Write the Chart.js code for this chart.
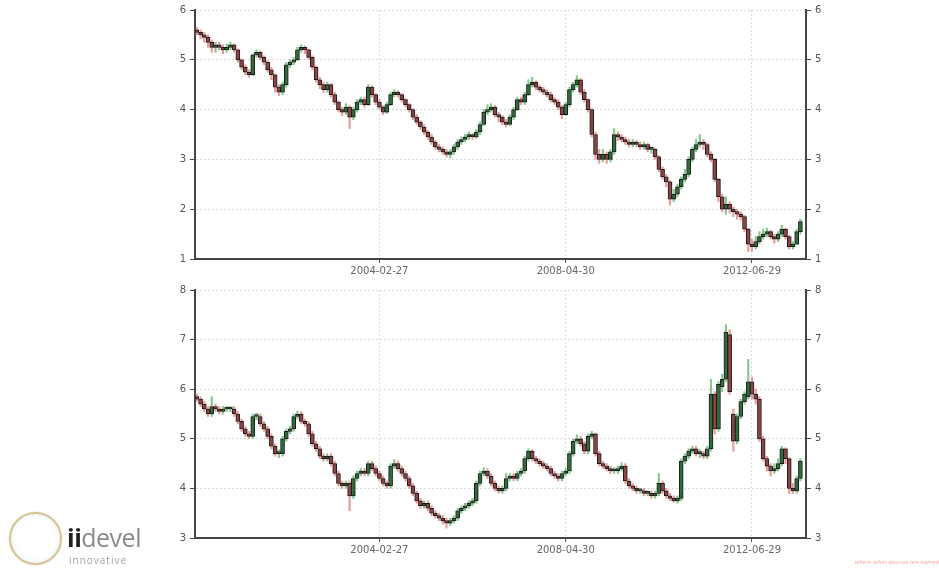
<!DOCTYPE html>
<html>
<head>
<meta charset="utf-8">
<script src="https://cdn.jsdelivr.net/npm/chart.js@4.4.0/dist/chart.umd.min.js"></script>
<style>
  body { margin: 0; background: #fff; width: 939px; height: 569px; overflow: hidden; position: relative; font-family: "DejaVu Sans", sans-serif; }
  canvas { position: absolute; left: 0; }
  #top { top: 0; }
  #bottom { top: 280px; }
  .ring { position: absolute; left: 9px; top: 512px; width: 49px; height: 49px; border-radius: 50%; border: 2px solid #d6c293; box-shadow: inset 0 0 6px #e2eef3, 0 0 2px #e8dcbc; }
  .brand { position: absolute; left: 67px; top: 523px; width: 77px; overflow: hidden; white-space: nowrap; font-family: "Open Sans", sans-serif; font-size: 25px; line-height: 28px; color: #8a8a8a; letter-spacing: -0.5px; }
  .brand b { color: #1f1f1f; font-weight: 700; }
  .tagline { position: absolute; left: 69px; top: 553px; width: 74px; overflow: hidden; white-space: nowrap; font-family: "Open Sans", sans-serif; font-size: 10px; color: #a0a0a0; letter-spacing: 1px; }
  .note { position: absolute; left: 855px; top: 558px; font-family: "Open Sans", sans-serif; font-style: italic; font-size: 6px; color: #f0a4a4; white-space: nowrap; }
</style>
</head>
<body>
<canvas id="top" width="939" height="280"></canvas>
<canvas id="bottom" width="939" height="280"></canvas>
<div class="ring"></div>
<div class="brand"><b>ii</b>devel</div>
<div class="tagline">innovative</div>
<div class="note">where other sources are named</div>
<script>
// monthly bars, 2000-01 .. 2013-08
const months = [];
for (let y = 2000; y <= 2013; y++) {
  for (let m = 1; m <= 12; m++) {
    if (y === 2013 && m > 8) break;
    months.push(y + "-" + String(m).padStart(2, "0"));
  }
}
const tickLabels = ["2004-02-27", "2008-04-30", "2012-06-29"];

// upper panel
const topOpen = [
  5.6,5.55,5.5,5.45,5.35,5.25,5.3,5.25,5.2,5.25,5.3,5.2,
  5.0,4.85,4.75,4.7,5.1,5.15,5.05,4.95,4.8,4.7,4.45,4.35,
  4.5,4.9,4.95,5.0,5.2,5.25,5.2,5.05,4.85,4.6,4.5,4.4,
  4.5,4.3,4.15,4.0,3.95,4.05,3.85,4.0,4.15,4.2,4.1,4.45,
  4.3,4.15,4.05,3.95,4.1,4.3,4.35,4.3,4.2,4.1,4.0,3.85,
  3.75,3.65,3.55,3.45,3.35,3.25,3.2,3.15,3.1,3.15,3.25,3.35,
  3.4,3.45,3.5,3.45,3.55,3.7,3.95,4.0,4.05,3.9,3.85,3.75,
  3.7,3.85,4.0,4.2,4.15,4.3,4.5,4.55,4.45,4.4,4.35,4.3,
  4.2,4.15,4.05,3.9,4.1,4.4,4.5,4.6,4.35,4.2,4.0,3.5,
  3.1,3.0,3.1,3.0,3.15,3.5,3.45,3.4,3.35,3.3,3.35,3.3,
  3.25,3.3,3.2,3.2,3.05,2.8,2.65,2.55,2.2,2.3,2.45,2.6,
  2.7,3.0,3.2,3.3,3.35,3.3,3.1,3.0,2.6,2.25,2.0,2.1,
  2.0,1.95,1.9,1.85,1.6,1.3,1.25,1.35,1.45,1.5,1.55,1.45,
  1.4,1.5,1.6,1.45,1.25,1.3,1.55,null
];
const topHigh = [
  5.65,5.6,5.55,5.5,5.4,5.35,5.35,5.3,5.32,5.35,5.32,5.22,
  5.02,4.9,4.8,5.12,5.2,5.18,5.08,4.98,4.85,4.72,4.5,4.55,
  4.95,5.0,5.05,5.25,5.3,5.28,5.22,5.08,4.88,4.65,4.55,4.55,
  4.52,4.35,4.18,4.05,4.12,4.08,4.05,4.2,4.25,4.25,4.5,4.48,
  4.32,4.2,4.08,4.15,4.35,4.4,4.38,4.32,4.22,4.12,4.02,3.9,
  3.78,3.7,3.58,3.5,3.38,3.3,3.25,3.2,3.2,3.3,3.4,3.45,
  3.5,3.55,3.52,3.6,3.75,4.0,4.1,4.12,4.08,3.95,3.88,3.8,
  3.9,4.05,4.25,4.25,4.35,4.6,4.65,4.58,4.5,4.45,4.4,4.35,
  4.25,4.2,4.08,4.15,4.45,4.55,4.68,4.62,4.4,4.22,4.02,3.55,
  3.2,3.2,3.15,3.2,3.62,3.55,3.5,3.45,3.4,3.4,3.38,3.35,
  3.35,3.32,3.25,3.22,3.08,2.85,2.7,2.58,2.4,2.5,2.65,2.8,
  3.05,3.25,3.4,3.5,3.4,3.32,3.15,3.02,2.62,2.3,2.25,2.15,
  2.05,2.0,1.95,1.88,1.62,1.4,1.45,1.55,1.6,1.62,1.58,1.5,
  1.55,1.68,1.62,1.48,1.35,1.6,1.8,null
];
const topLow = [
  5.5,5.42,5.35,5.25,5.15,5.15,5.2,5.12,5.15,5.2,5.15,4.95,
  4.8,4.7,4.65,4.68,5.05,5.0,4.9,4.75,4.6,4.35,4.28,4.3,
  4.45,4.85,4.9,4.98,5.15,5.12,5.0,4.8,4.55,4.42,4.35,4.35,
  4.25,4.1,3.95,3.88,3.9,3.62,3.8,3.95,4.1,4.05,4.08,4.25,
  4.1,4.0,3.9,3.92,4.08,4.25,4.25,4.15,4.05,3.95,3.8,3.7,
  3.6,3.5,3.4,3.3,3.2,3.15,3.1,3.05,3.03,3.1,3.2,3.3,
  3.35,3.4,3.4,3.42,3.5,3.68,3.9,3.95,3.85,3.75,3.7,3.65,
  3.68,3.8,3.98,4.1,4.1,4.28,4.45,4.4,4.35,4.3,4.25,4.15,
  4.1,4.0,3.82,3.88,4.05,4.35,4.45,4.3,4.15,3.95,3.45,3.0,
  2.92,2.95,2.92,2.95,3.1,3.38,3.35,3.3,3.25,3.25,3.25,3.2,
  3.2,3.15,3.12,3.0,2.75,2.6,2.45,2.08,2.15,2.25,2.4,2.55,
  2.65,2.95,3.15,3.25,3.2,3.05,2.95,2.55,2.15,1.95,1.9,1.92,
  1.85,1.8,1.78,1.55,1.15,1.15,1.2,1.3,1.4,1.45,1.4,1.32,
  1.35,1.45,1.4,1.2,1.2,1.28,1.5,null
];
const topClose = [
  5.55,5.5,5.45,5.35,5.25,5.3,5.25,5.2,5.25,5.3,5.2,5.0,
  4.85,4.75,4.7,5.1,5.15,5.05,4.95,4.8,4.7,4.45,4.35,4.5,
  4.9,4.95,5.0,5.2,5.25,5.2,5.05,4.85,4.6,4.5,4.4,4.5,
  4.3,4.15,4.0,3.95,4.05,3.85,4.0,4.15,4.2,4.1,4.45,4.3,
  4.15,4.05,3.95,4.1,4.3,4.35,4.3,4.2,4.1,4.0,3.85,3.75,
  3.65,3.55,3.45,3.35,3.25,3.2,3.15,3.1,3.15,3.25,3.35,3.4,
  3.45,3.5,3.45,3.55,3.7,3.95,4.0,4.05,3.9,3.85,3.75,3.7,
  3.85,4.0,4.2,4.15,4.3,4.5,4.55,4.45,4.4,4.35,4.3,4.2,
  4.15,4.05,3.9,4.1,4.4,4.5,4.6,4.35,4.2,4.0,3.5,3.1,
  3.0,3.1,3.0,3.15,3.5,3.45,3.4,3.35,3.3,3.35,3.3,3.25,
  3.3,3.2,3.2,3.05,2.8,2.65,2.55,2.2,2.3,2.45,2.6,2.7,
  3.0,3.2,3.3,3.35,3.3,3.1,3.0,2.6,2.25,2.0,2.1,2.0,
  1.95,1.9,1.85,1.6,1.3,1.25,1.35,1.45,1.5,1.55,1.45,1.4,
  1.5,1.6,1.45,1.25,1.3,1.55,1.75,null
];

// lower panel
const botOpen = [
  5.85,5.8,5.7,5.6,5.5,5.65,5.6,5.55,5.6,5.6,5.6,5.5,
  5.35,5.2,5.1,5.05,5.45,5.45,5.3,5.2,5.05,4.85,4.7,4.7,
  5.0,5.15,5.2,5.45,5.5,5.35,5.3,5.1,4.9,4.8,4.65,4.6,
  4.65,4.5,4.3,4.1,4.05,4.1,3.85,4.2,4.3,4.35,4.3,4.5,
  4.4,4.3,4.2,4.1,4.05,4.45,4.5,4.4,4.3,4.2,4.05,3.9,
  3.75,3.65,3.7,3.6,3.5,3.45,3.4,3.35,3.3,3.35,3.4,3.55,
  3.6,3.65,3.7,3.75,4.1,4.3,4.35,4.25,4.1,4.0,3.95,4.0,
  4.2,4.25,4.2,4.3,4.35,4.6,4.75,4.6,4.55,4.5,4.45,4.4,
  4.3,4.25,4.2,4.3,4.35,4.7,4.95,5.0,4.9,4.75,5.05,5.1,
  4.7,4.5,4.45,4.4,4.35,4.35,4.4,4.45,4.15,4.05,4.0,3.95,
  3.95,3.9,3.9,3.85,3.9,4.1,3.95,3.85,3.8,3.75,3.8,4.55,
  4.65,4.75,4.8,4.7,4.7,4.65,4.8,5.9,5.2,6.05,6.2,7.1,
  5.5,4.95,5.45,5.75,5.85,6.15,5.9,5.8,5.0,4.6,4.45,4.35,
  4.4,4.5,4.8,4.6,4.0,3.95,4.2,null
];
const botHigh = [
  5.9,5.85,5.75,5.65,5.85,5.7,5.65,5.65,5.65,5.65,5.65,5.55,
  5.4,5.25,5.15,5.5,5.52,5.5,5.35,5.25,5.1,4.9,4.78,5.05,
  5.2,5.25,5.5,5.56,5.55,5.4,5.35,5.15,4.95,4.85,4.7,4.7,
  4.7,4.55,4.35,4.15,4.15,4.15,4.25,4.35,4.4,4.4,4.55,4.55,
  4.45,4.35,4.25,4.15,4.5,4.58,4.55,4.45,4.35,4.25,4.1,3.95,
  3.8,3.75,3.75,3.65,3.55,3.5,3.45,3.4,3.4,3.45,3.6,3.65,
  3.7,3.75,3.8,4.15,4.35,4.42,4.4,4.3,4.15,4.05,4.05,4.3,
  4.3,4.3,4.35,4.4,4.65,4.8,4.78,4.65,4.6,4.55,4.5,4.45,
  4.35,4.3,4.35,4.4,4.75,5.0,5.08,5.05,4.95,5.1,5.15,5.12,
  4.75,4.55,4.5,4.45,4.42,4.45,4.52,4.5,4.2,4.1,4.05,4.0,
  4.0,3.95,3.95,3.95,4.3,4.15,4.0,3.9,3.85,3.85,4.6,4.7,
  4.8,4.85,4.85,4.78,4.75,4.85,6.2,5.95,6.15,6.3,7.3,7.2,
  5.6,5.5,5.8,5.95,6.6,6.25,6.0,5.85,5.05,4.65,4.5,4.5,
  4.6,4.85,4.82,4.62,4.1,4.25,4.6,null
];
const botLow = [
  5.75,5.65,5.55,5.45,5.45,5.55,5.5,5.5,5.55,5.55,5.45,5.3,
  5.15,5.05,5.0,5.0,5.38,5.25,5.15,5.0,4.8,4.65,4.62,4.65,
  4.95,5.1,5.15,5.4,5.3,5.25,5.05,4.85,4.75,4.6,4.55,4.55,
  4.45,4.25,4.05,4.0,4.0,3.55,3.8,4.15,4.25,4.25,4.25,4.35,
  4.25,4.15,4.05,4.0,4.0,4.4,4.35,4.25,4.15,4.0,3.85,3.7,
  3.6,3.6,3.55,3.45,3.4,3.35,3.28,3.2,3.25,3.3,3.35,3.5,
  3.55,3.6,3.65,3.7,4.05,4.25,4.2,4.05,3.95,3.9,3.9,3.95,
  4.15,4.15,4.15,4.25,4.3,4.55,4.55,4.5,4.45,4.4,4.35,4.25,
  4.2,4.15,4.15,4.25,4.3,4.65,4.9,4.85,4.7,4.7,5.0,4.65,
  4.45,4.4,4.35,4.3,4.3,4.3,4.35,4.1,4.0,3.95,3.9,3.9,
  3.85,3.85,3.8,3.8,3.85,3.9,3.8,3.75,3.72,3.7,3.75,4.5,
  4.6,4.7,4.65,4.62,4.6,4.6,4.75,5.1,5.15,5.95,6.15,5.9,
  4.75,4.9,5.4,5.7,5.8,5.8,5.7,4.95,4.55,4.35,4.25,4.3,
  4.35,4.45,4.5,3.9,3.9,3.9,4.15,null
];
const botClose = [
  5.8,5.7,5.6,5.5,5.65,5.6,5.55,5.6,5.6,5.6,5.5,5.35,
  5.2,5.1,5.05,5.45,5.45,5.3,5.2,5.05,4.85,4.7,4.7,5.0,
  5.15,5.2,5.45,5.5,5.35,5.3,5.1,4.9,4.8,4.65,4.6,4.65,
  4.5,4.3,4.1,4.05,4.1,3.85,4.2,4.3,4.35,4.3,4.5,4.4,
  4.3,4.2,4.1,4.05,4.45,4.5,4.4,4.3,4.2,4.05,3.9,3.75,
  3.65,3.7,3.6,3.5,3.45,3.4,3.35,3.3,3.35,3.4,3.55,3.6,
  3.65,3.7,3.75,4.1,4.3,4.35,4.25,4.1,4.0,3.95,4.0,4.2,
  4.25,4.2,4.3,4.35,4.6,4.75,4.6,4.55,4.5,4.45,4.4,4.3,
  4.25,4.2,4.3,4.35,4.7,4.95,5.0,4.9,4.75,5.05,5.1,4.7,
  4.5,4.45,4.4,4.35,4.35,4.4,4.45,4.15,4.05,4.0,3.95,3.95,
  3.9,3.9,3.85,3.9,4.1,3.95,3.85,3.8,3.75,3.8,4.55,4.65,
  4.75,4.8,4.7,4.7,4.65,4.8,5.9,5.2,6.1,6.2,7.15,5.95,
  4.95,5.45,5.75,5.9,6.15,5.9,5.8,5.0,4.6,4.45,4.35,4.4,
  4.5,4.8,4.6,4.0,3.95,4.2,4.55,null
];

const axisFont = { family: "DejaVu Sans", size: 10 };

function candlePanel(id, opens, highs, lows, closes, yMin, yMax, xHeight) {
  const rising = closes.map((c, i) => c !== null && c >= opens[i]);
  return new Chart(document.getElementById(id), {
    type: "bar",
    data: {
      labels: months,
      datasets: [
        {
          // high-low wick
          data: closes.map((c, i) => c === null ? null : [lows[i], highs[i]]),
          backgroundColor: rising.map(r => r ? "#86c98c" : "#ec9a9a"),
          barThickness: 1.5,
          grouped: false,
          order: 2
        },
        {
          // open-close body
          data: closes.map((c, i) => c === null ? null : [opens[i], c]),
          backgroundColor: rising.map(r => r ? "#2f6e3a" : "#8e4444"),
          borderColor: "#1a1a1a",
          borderWidth: 1,
          borderSkipped: false,
          barThickness: 4,
          minBarLength: 2,
          grouped: false,
          order: 1
        }
      ]
    },
    options: {
      responsive: false,
      animation: false,
      layout: { padding: { top: 10, left: 0, right: 0, bottom: 0 } },
      plugins: { legend: { display: false }, tooltip: { enabled: false } },
      scales: {
        x: {
          offset: true,
          afterBuildTicks: s => {
            s.ticks = s.ticks.filter(t => tickLabels.some(l => l.startsWith(months[t.value])));
          },
          afterFit: s => { s.height = xHeight; },
          grid: { offset: false, color: "#dadada", tickColor: "#555", tickLength: 4 },
          border: { color: "#454545", width: 2, dash: [2, 2] },
          ticks: {
            autoSkip: false, maxRotation: 0, padding: 2, color: "#666", font: axisFont,
            callback: v => tickLabels.find(l => l.startsWith(months[v]))
          }
        },
        y: {
          position: "left", min: yMin, max: yMax,
          afterFit: s => { s.width = 195; },
          ticks: { stepSize: 1, padding: 4, color: "#555", font: axisFont },
          grid: { color: "#dadada", tickColor: "#454545", tickLength: 5 },
          border: { color: "#454545", width: 2, dash: [2, 2] }
        },
        y2: {
          position: "right", min: yMin, max: yMax,
          afterFit: s => { s.width = 133; },
          ticks: { stepSize: 1, padding: 4, color: "#555", font: axisFont },
          grid: { drawOnChartArea: false, tickColor: "#454545", tickLength: 5 },
          border: { color: "#454545", width: 2 }
        }
      }
    }
  });
}

candlePanel("top", topOpen, topHigh, topLow, topClose, 1, 6, 21);
candlePanel("bottom", botOpen, botHigh, botLow, botClose, 3, 8, 22);
</script>
</body>
</html>
